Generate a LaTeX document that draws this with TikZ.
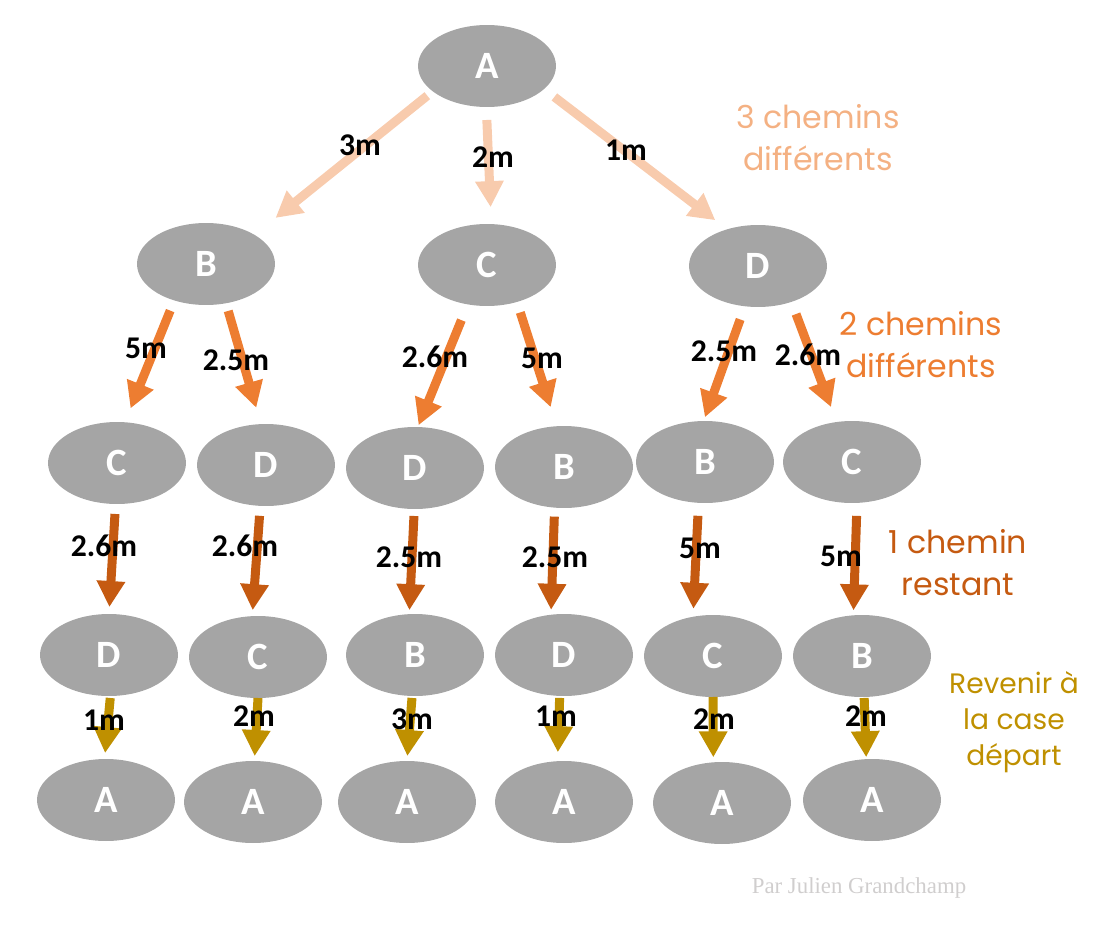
\documentclass[tikz,border=0pt]{standalone}
\usepackage{fontspec}
\setmainfont{Carlito}
\newfontfamily\sidefont{Poppins}
\newfontfamily\creditfont{Liberation Serif}
\usetikzlibrary{shapes.geometric,arrows.meta}
\definecolor{citygray}{HTML}{A5A5A5}
\definecolor{peach}{HTML}{F8CBAD}
\definecolor{peachtext}{HTML}{F4B183}
\definecolor{orangemid}{HTML}{ED7D31}
\definecolor{orangedark}{HTML}{C55A11}
\definecolor{gold}{HTML}{BF9000}
\definecolor{creditgray}{HTML}{D0CECE}

\begin{document}
\begin{tikzpicture}[x=0.02cm, y=-0.02cm,
    city/.style={ellipse, fill=citygray, minimum width=2.76cm, minimum height=1.64cm, inner sep=0pt, outer sep=0pt, text=white, font=\fontsize{22}{26}\selectfont\bfseries},
    dist/.style={inner sep=0pt, font=\fontsize{18}{22}\selectfont\bfseries},
    hop/.style={line width=0.18cm, -{Triangle[width=0.54cm,length=0.52cm]}},
    sh/.style 2 args={shorten <=#1*0.02cm, shorten >=#2*0.02cm},
    note/.style={align=center, inner sep=0pt, font=\sidefont\fontsize{18}{24}\selectfont}]
    \useasboundingbox (0,0) rectangle (1102,936);

    % start
    \node[city] (A) at (487,66) {A};

    % first step
    \node[city] (AB) at (206,264) {B};
    \node[city] (AC) at (487,265) {C};
    \node[city] (AD) at (758,266) {D};

    % second step
    \node[city] (ABC) at (117,463) {C};
    \node[city] (ABD) at (266,465) {D};
    \node[city] (ACD) at (415,468) {D};
    \node[city] (ACB) at (564,467) {B};
    \node[city] (ADB) at (705,462) {B};
    \node[city] (ADC) at (852,462) {C};

    % third step
    \node[city] (ABCD) at (109,655) {D};
    \node[city] (ABDC) at (258,657) {C};
    \node[city] (ACDB) at (415,655) {B};
    \node[city] (ACBD) at (564,655) {D};
    \node[city] (ADBC) at (713,656) {C};
    \node[city] (ADCB) at (862,656) {B};

    % back home
    \node[city] (ABCDA) at (106,800) {A};
    \node[city] (ABDCA) at (253,802) {A};
    \node[city] (ACDBA) at (407,802) {A};
    \node[city] (ACBDA) at (564,802) {A};
    \node[city] (ADBCA) at (722,803) {A};
    \node[city] (ADCBA) at (872,800) {A};

    % arrows
    \draw[hop, peach, sh={7}{27}] (A.205.8) -- (AB.31.8);
    \draw[hop, peach, sh={13}{17}] (A.269) -- (AC.84);
    \draw[hop, peach, sh={13}{15}] (A.-22.1) -- (AD.130.5);

    \draw[hop, orangemid, sh={11}{15}] (AB.229.1) -- (ABC.79.9);
    \draw[hop, orangemid, sh={8}{17}] (AB.-63.9) -- (ABD.97.9);
    \draw[hop, orangemid, sh={17}{2}] (AC.244.7) -- (ACD.86);
    \draw[hop, orangemid, sh={11}{20}] (AC.-51.2) -- (ACB.100.4);
    \draw[hop, orangemid, sh={14}{4}] (AD.252.5) -- (ADB.92.5);
    \draw[hop, orangemid, sh={13}{16}] (AD.-47) -- (ADC.111.8);

    \draw[hop, orangedark, sh={10}{7}] (ABC.268) -- (ABCD.90);
    \draw[hop, orangedark, sh={10}{6}] (ABD.262) -- (ABDC.98.5);
    \draw[hop, orangedark, sh={7}{4}] (ACD.269) -- (ACDB.98.8);
    \draw[hop, orangedark, sh={9}{5}] (ACB.257.3) -- (ACBD.108.4);
    \draw[hop, orangedark, sh={13}{8}] (ADB.261.6) -- (ADBC.117.6);
    \draw[hop, orangedark, sh={13}{5}] (ADC.-83.7) -- (ADCB.102.3);

    \draw[hop, gold, sh={2}{6}] (ABCD.-88.7) -- (ABCDA.92.4);
    \draw[hop, gold, sh={0}{5}] (ABDC.-90) -- (ABDCA.88.8);
    \draw[hop, gold, sh={2}{5}] (ACDB.266) -- (ACDBA.90);
    \draw[hop, gold, sh={2}{9}] (ACBD.264.7) -- (ACBDA.99);
    \draw[hop, gold, sh={0}{5}] (ADBC.-90) -- (ADBCA.102.3);
    \draw[hop, gold, sh={1}{2}] (ADCB.-87.3) -- (ADCBA.98);

    % distances
    \node[dist] (dAB) at (360,145) {3m};
    \node[dist] (dAC) at (493,157) {2m};
    \node[dist] (dAD) at (626,150) {1m};

    \node[dist] (dBC) at (146,348) {5m};
    \node[dist] (dBD) at (236,360) {2.5m};
    \node[dist] (dCD) at (435,357) {2.6m};
    \node[dist] (dCB) at (542,358) {5m};
    \node[dist] (dDB) at (724,351) {2.5m};
    \node[dist] (dDC) at (808,355) {2.6m};

    \node[dist] (dBCD) at (104,546) {2.6m};
    \node[dist] (dBDC) at (245,546) {2.6m};
    \node[dist] (dCDB) at (409,557) {2.5m};
    \node[dist] (dCBD) at (555,557) {2.5m};
    \node[dist] (dDBC) at (700,548) {5m};
    \node[dist] (dDCB) at (841,556) {5m};

    \node[dist] (dBCDA) at (104,720) {1m};
    \node[dist] (dBDCA) at (254,716) {2m};
    \node[dist] (dCDBA) at (412,719) {3m};
    \node[dist] (dCBDA) at (556,716) {1m};
    \node[dist] (dDBCA) at (714,719) {2m};
    \node[dist] (dDCBA) at (866,716) {2m};

    % side notes
    \node[note, text=peachtext] (note1) at (818,138) {3 chemins\\différents};
    \node[note, text=orangemid] (note2) at (921,345) {2 chemins\\différents};
    \node[note, text=orangedark] (note3) at (958,563) {1 chemin\\restant};
    \node[note, text=gold, font=\sidefont\fontsize{16}{20.5}\selectfont] (note4) at (1014,722) {Revenir à\\la case\\départ};

    \node[text=creditgray, inner sep=0pt, font=\creditfont\fontsize{13}{15}\selectfont] (credit) at (859,888) {Par Julien Grandchamp};
\end{tikzpicture}
\end{document}
